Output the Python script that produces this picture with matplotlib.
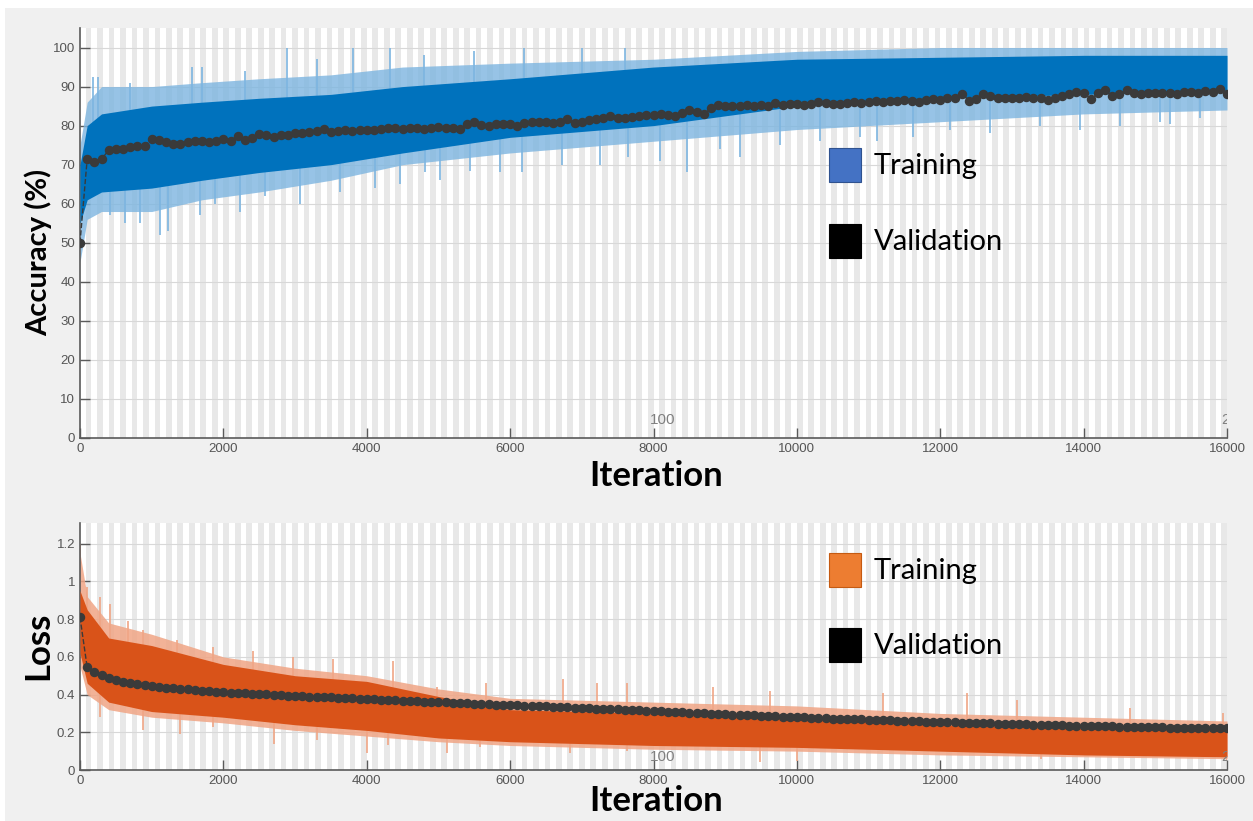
import numpy as np
import matplotlib
matplotlib.use('Agg')
import matplotlib.pyplot as plt
from matplotlib.patches import Rectangle

W, H = 1253, 821

# validation points, every 100 iterations
val_iter = np.arange(0, 16001, 100)
val_acc = [50.0, 71.4, 70.6, 71.4, 73.7, 73.9, 74.1, 74.5, 74.9, 74.7,
           76.7, 76.2, 75.7, 75.4, 75.2, 75.9, 76.0, 76.1, 75.9, 76.0,
           76.6, 76.1, 77.4, 76.2, 76.9, 77.9, 77.6, 77.2, 77.5, 77.7,
           78.0, 78.1, 78.3, 78.6, 79.1, 78.4, 78.5, 78.8, 78.6, 78.9,
           79.0, 78.8, 79.2, 79.4, 79.3, 79.2, 79.5, 79.3, 79.2, 79.4,
           79.6, 79.4, 79.3, 79.1, 80.4, 80.8, 80.2, 80.0, 80.3, 80.5,
           80.3, 80.0, 80.6, 80.8, 80.8, 80.9, 80.7, 81.0, 81.6, 80.6,
           81.0, 81.5, 81.8, 82.0, 82.5, 81.9, 82.0, 82.2, 82.4, 82.6,
           82.7, 82.9, 82.7, 82.5, 83.3, 83.9, 83.5, 82.9, 84.4, 85.2,
           85.0, 84.9, 85.0, 85.2, 85.1, 85.3, 85.0, 85.7, 85.4, 85.5,
           85.6, 85.3, 85.6, 86.0, 85.8, 85.6, 85.5, 85.9, 86.1, 85.8,
           86.0, 86.2, 86.1, 86.4, 86.3, 86.5, 86.2, 86.0, 86.6, 86.8,
           86.5, 87.0, 87.2, 88.2, 86.4, 86.7, 88.2, 87.5, 87.1, 87.0,
           87.2, 87.0, 87.3, 87.2, 87.1, 86.5, 87.0, 87.6, 88.0, 88.5,
           88.3, 86.9, 88.4, 89.0, 87.6, 88.0, 89.0, 88.4, 88.2, 88.3,
           88.4, 88.3, 88.4, 88.2, 88.5, 88.6, 88.4, 88.8, 88.6, 89.5,
           88.2]
val_loss = [0.810, 0.545, 0.522, 0.503, 0.488, 0.477, 0.468, 0.461, 0.455, 0.449,
            0.444, 0.440, 0.436, 0.433, 0.430, 0.427, 0.424, 0.421, 0.418, 0.415,
            0.413, 0.411, 0.409, 0.407, 0.405, 0.403, 0.401, 0.399, 0.397, 0.395,
            0.393, 0.391, 0.389, 0.388, 0.386, 0.385, 0.383, 0.381, 0.380, 0.378,
            0.376, 0.375, 0.373, 0.371, 0.370, 0.368, 0.366, 0.364, 0.363, 0.361,
            0.360, 0.358, 0.357, 0.355, 0.354, 0.352, 0.350, 0.349, 0.347, 0.346,
            0.344, 0.343, 0.341, 0.340, 0.338, 0.337, 0.335, 0.333, 0.332, 0.330,
            0.329, 0.327, 0.325, 0.324, 0.322, 0.321, 0.319, 0.317, 0.316, 0.314,
            0.312, 0.311, 0.309, 0.307, 0.306, 0.304, 0.302, 0.301, 0.299, 0.298,
            0.296, 0.294, 0.293, 0.291, 0.290, 0.288, 0.286, 0.285, 0.283, 0.282,
            0.280, 0.279, 0.277, 0.276, 0.275, 0.273, 0.272, 0.271, 0.269, 0.268,
            0.267, 0.265, 0.264, 0.263, 0.262, 0.260, 0.259, 0.258, 0.257, 0.255,
            0.254, 0.253, 0.252, 0.251, 0.250, 0.249, 0.248, 0.247, 0.246, 0.245,
            0.244, 0.243, 0.242, 0.241, 0.240, 0.239, 0.238, 0.237, 0.236, 0.235,
            0.234, 0.233, 0.232, 0.231, 0.231, 0.230, 0.229, 0.228, 0.228, 0.227,
            0.226, 0.226, 0.225, 0.225, 0.224, 0.224, 0.223, 0.223, 0.222, 0.222,
            0.222]

# training accuracy: envelopes of the raw and smoothed curves
acc_it = [0, 100, 300, 1000, 1700, 2500, 3500, 4500, 6000, 8000, 10000, 12000, 14000, 16000]
acc_raw_lo = [45, 56, 58, 58, 61, 63, 66, 70, 73, 76, 79, 81, 83, 84]
acc_raw_hi = [75, 86, 90, 90, 91, 92, 93, 95, 96, 97, 99, 100, 100, 100]
acc_sm_lo = [55, 61, 63, 64, 66, 68, 70, 73, 77, 80, 85, 87, 88, 89]
acc_sm_hi = [70, 80, 83, 85, 86, 87, 88, 90, 92, 95, 97, 97.5, 98, 98]
# single raw iterations sticking out of the band
acc_low_it = [420, 630, 840, 1120, 1230, 1670, 1880, 2230, 2580, 3070, 3630, 4120, 4460, 4810,
              5020, 5440, 5860, 6160, 6720, 7250, 7650, 8090, 8470, 8930, 9210, 9770, 10320,
              10880, 11120, 11620, 12140, 12700, 13390, 13950, 14510, 15070, 15200, 15620]
acc_low_val = [57, 55, 55, 52, 53, 57, 60, 58, 62, 60, 63, 64, 65, 68,
               66, 68.5, 68, 68, 70, 70, 72, 71, 68, 74, 72, 75, 76,
               77, 76, 77, 79, 78, 80, 79, 80, 81, 80.5, 82]
acc_high_it = [180, 250, 700, 1560, 1700, 2300, 2890, 3300, 3810, 4320, 4800, 5500, 6200, 7000, 7600]
acc_high_val = [92.5, 92.5, 91, 95, 95, 94, 100, 97, 100, 100, 98, 99, 100, 100, 100]

# training loss
loss_it = [0, 100, 400, 1000, 2000, 3000, 4000, 5000, 6000, 8000, 10000, 12000, 14000, 16000]
loss_raw_lo = [0.55, 0.40, 0.32, 0.28, 0.25, 0.21, 0.18, 0.15, 0.13, 0.11, 0.10, 0.08, 0.07, 0.06]
loss_raw_hi = [1.15, 0.92, 0.78, 0.72, 0.60, 0.54, 0.50, 0.43, 0.38, 0.36, 0.34, 0.30, 0.28, 0.26]
loss_sm_lo = [0.62, 0.46, 0.36, 0.31, 0.28, 0.24, 0.21, 0.17, 0.15, 0.13, 0.12, 0.10, 0.08, 0.07]
loss_sm_hi = [0.95, 0.85, 0.70, 0.66, 0.56, 0.50, 0.47, 0.39, 0.32, 0.30, 0.28, 0.24, 0.22, 0.21]
loss_high_it = [0, 100, 280, 420, 670, 880, 1350, 1860, 2420, 2970, 3530, 4370, 4980, 5670,
                6740, 7210, 7630, 8830, 9630, 11200, 12370, 13070, 14650, 15950]
loss_high_val = [1.2, 0.97, 0.92, 0.88, 0.79, 0.74, 0.69, 0.65, 0.63, 0.60, 0.59, 0.58, 0.44, 0.46,
                 0.48, 0.46, 0.46, 0.44, 0.42, 0.41, 0.41, 0.37, 0.33, 0.30]
loss_low_it = [280, 880, 1400, 1860, 2700, 3300, 4000, 4300, 5120, 5580, 6840, 7630, 9490, 10000, 13400, 16000]
loss_low_val = [0.28, 0.21, 0.19, 0.23, 0.14, 0.16, 0.09, 0.13, 0.09, 0.12, 0.09, 0.10, 0.04, 0.05, 0.06, 0.05]

iters_per_epoch = 80
n_epochs = 200

fig = plt.figure(figsize=(W / 100, H / 100), dpi=100, facecolor='white')
fig.patches.append(Rectangle((5 / W, 0), 1, 1 - 8 / H, transform=fig.transFigure,
                             facecolor='#f0f0f0', edgecolor='none', zorder=-10))

ax1 = fig.add_axes([80 / W, 1 - 438 / H, 1147 / W, 410 / H])
ax2 = fig.add_axes([80 / W, 1 - 770 / H, 1147 / W, 247 / H])


def style(ax, ylim, yticks, ylabels):
    ax.set_facecolor('white')
    for e in range(1, n_epochs, 2):
        ax.axvspan(e * iters_per_epoch, (e + 1) * iters_per_epoch, color='#e8e8e8', lw=0, zorder=0)
    ax.set_xlim(0, 16000)
    ax.set_ylim(*ylim)
    ax.set_xticks(range(0, 16001, 2000))
    ax.set_yticks(yticks)
    ax.set_yticklabels(ylabels)
    ax.set_axisbelow(True)
    ax.yaxis.grid(True, color='#d8d8d8', lw=0.8)
    for s in ['top', 'right']:
        ax.spines[s].set_visible(False)
    for s in ['left', 'bottom']:
        ax.spines[s].set_color('#5a5a5a')
        ax.spines[s].set_linewidth(1.2)
    ax.tick_params(direction='in', length=7, width=1, color='#5a5a5a',
                   labelcolor='#555555', labelsize=9.5)
    for lab in ax.get_xticklabels() + ax.get_yticklabels():
        lab.set_family('Liberation Sans')


def spikes(ax, it, val, env_it, lo, hi, color):
    base = (np.interp(it, env_it, lo) + np.interp(it, env_it, hi)) / 2
    ax.vlines(it, base, val, color=color, lw=1.2, zorder=2)


style(ax1, (0, 105), range(0, 101, 10), [str(v) for v in range(0, 101, 10)])
style(ax2, (0, 1.31), [0, 0.2, 0.4, 0.6, 0.8, 1.0, 1.2], ['0', '0.2', '0.4', '0.6', '0.8', '1', '1.2'])

# accuracy
light_blue = '#7db5e0'
ax1.fill_between(acc_it, acc_raw_lo, acc_raw_hi, color=light_blue, alpha=0.8, lw=0, zorder=2)
spikes(ax1, acc_low_it, acc_low_val, acc_it, acc_sm_lo, acc_sm_hi, light_blue)
spikes(ax1, acc_high_it, acc_high_val, acc_it, acc_sm_lo, acc_sm_hi, light_blue)
ax1.fill_between(acc_it, acc_sm_lo, acc_sm_hi, color='#0072bd', lw=0, zorder=3)
ax1.plot(val_iter, val_acc, '--o', color='#3a3a3a', lw=1, ms=5.8, zorder=4)

# loss
light_orange = '#f0a585'
ax2.fill_between(loss_it, loss_raw_lo, loss_raw_hi, color=light_orange, alpha=0.85, lw=0, zorder=2)
spikes(ax2, loss_high_it, loss_high_val, loss_it, loss_sm_lo, loss_sm_hi, light_orange)
spikes(ax2, loss_low_it, loss_low_val, loss_it, loss_sm_lo, loss_sm_hi, light_orange)
ax2.fill_between(loss_it, loss_sm_lo, loss_sm_hi, color='#d95319', lw=0, zorder=3)
ax2.plot(val_iter, val_loss, '--o', color='#3a3a3a', lw=1, ms=5.8, zorder=4)

# epoch labels
for ax, y in [(ax1, 4.6), (ax2, 0.069)]:
    ax.text(8130, y, '100', ha='center', va='center', fontsize=11, color='#808080',
            family='Liberation Sans', zorder=5)
    ax.text(15925, y, '200', ha='left', va='center', fontsize=11, color='#808080',
            family='Liberation Sans', clip_on=True, zorder=5)

lab_font = dict(family='Lato', weight='bold', color='black')
fig.text(38 / W, 1 - 252 / H, 'Accuracy (%)', rotation=90, ha='center', va='center', fontsize=21, **lab_font)
fig.text(38 / W, 1 - 646 / H, 'Loss', rotation=90, ha='center', va='center', fontsize=25, **lab_font)
fig.text(656 / W, 1 - 476 / H, 'Iteration', ha='center', va='center', fontsize=25, **lab_font)
fig.text(656 / W, 1 - 811 / H, 'Iteration', ha='center', va='baseline', fontsize=25, **lab_font)

# legend boxes
legend = [(165, '#4472c4', '#2f528f', 'Training'), (241, '#000000', '#000000', 'Validation'),
          (570, '#ed7d31', '#c55a11', 'Training'), (645, '#000000', '#000000', 'Validation')]
for yc, fc, ec, txt in legend:
    fig.patches.append(Rectangle((829 / W, 1 - (yc + 17) / H), 32 / W, 34 / H, transform=fig.transFigure,
                                 facecolor=fc, edgecolor=ec, lw=0.8, zorder=10))
    fig.text(874 / W, 1 - (yc + 1) / H, txt, ha='left', va='center', fontsize=21, family='Lato', color='black')

fig.savefig('out.png', dpi=100, facecolor=fig.get_facecolor())
